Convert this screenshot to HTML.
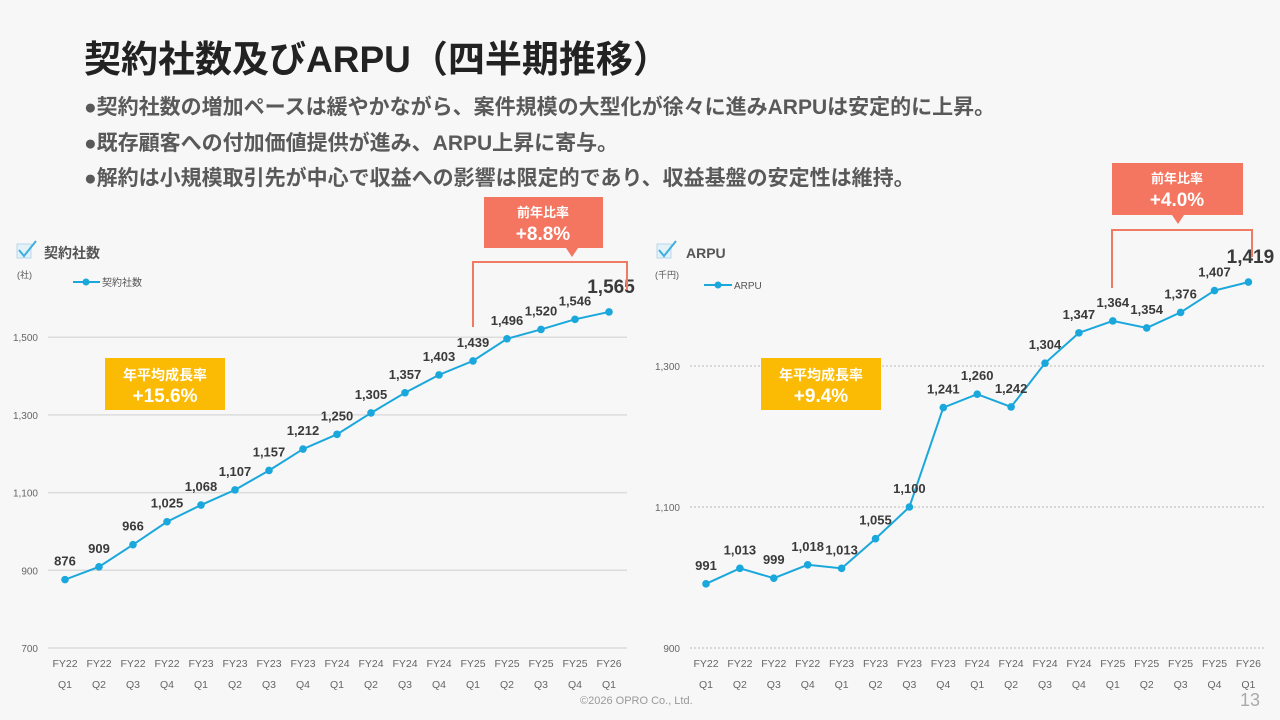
<!DOCTYPE html>
<html><head><meta charset="utf-8">
<style>
body{margin:0;width:1280px;height:720px;background:#f7f7f7;font-family:"Liberation Sans","Noto Sans CJK JP",sans-serif;overflow:hidden;position:relative}
.t{position:absolute;white-space:nowrap}
svg{position:absolute;left:0;top:0}
</style></head><body>
<div class="t" style="left:84px;top:29px;font-size:37px;font-weight:bold;color:#222">契約社数及びARPU（四半期推移）</div>
<div class="t" style="left:84px;top:91px;font-size:21px;font-weight:bold;color:#595959">●契約社数の増加ペースは緩やかながら、案件規模の大型化が徐々に進みARPUは安定的に上昇。</div>
<div class="t" style="left:84px;top:127px;font-size:21px;font-weight:bold;color:#595959">●既存顧客への付加価値提供が進み、ARPU上昇に寄与。</div>
<div class="t" style="left:84px;top:162px;font-size:21px;font-weight:bold;color:#595959">●解約は小規模取引先が中心で収益への影響は限定的であり、収益基盤の安定性は維持。</div>
<div class="t" style="left:580px;top:695px;font-size:11px;color:#999">©2026 OPRO Co., Ltd.</div>
<div class="t" style="left:1240px;top:690px;font-size:18px;color:#aaa">13</div>
<svg id="chart" width="1280" height="720"></svg>
<script>
const categoriesFY=["FY22","FY22","FY22","FY22","FY23","FY23","FY23","FY23","FY24","FY24","FY24","FY24","FY25","FY25","FY25","FY25","FY26"];
const categoriesQ=["Q1","Q2","Q3","Q4","Q1","Q2","Q3","Q4","Q1","Q2","Q3","Q4","Q1","Q2","Q3","Q4","Q1"];
const contractValues=[876,909,966,1025,1068,1107,1157,1212,1250,1305,1357,1403,1439,1496,1520,1546,1565];
const arpuValues=[991,1013,999,1018,1013,1055,1100,1241,1260,1242,1304,1347,1364,1354,1376,1407,1419];
const contractTicks=[700,900,1100,1300,1500];
const arpuTicks=[900,1100,1300];
const NS="http://www.w3.org/2000/svg";
const svg=document.getElementById('chart');
function mk(tag,attrs,parent){const e=document.createElementNS(NS,tag);for(const k in attrs)e.setAttribute(k,attrs[k]);(parent||svg).appendChild(e);return e;}
function fmt(v){return v.toLocaleString('en-US');}
function drawChart(cfg){
  const g=mk('g',{});
  
  
  const y=v=>cfg.y0-(v-cfg.vmin)*cfg.ppu;
  const x=i=>cfg.x0+i*cfg.step;
  cfg.ticks.forEach(t=>{
    const l=mk('line',{x1:cfg.gx0,x2:cfg.gx1,y1:y(t),y2:y(t),stroke:cfg.dotted?'#bbb':'#dcdcdc','stroke-width':cfg.dotted?1:1.5,'stroke-dasharray':cfg.dotted?'2,2':'none'},g);
    
    
    const tx=mk('text',{x:cfg.gx0-10,y:y(t)+4,'text-anchor':'end','font-size':10,fill:'#666'},g);
    tx.textContent=fmt(t);
    
    
  });
  categoriesFY.forEach((c,i)=>{
    const a=mk('text',{x:x(i),y:667,'text-anchor':'middle','font-size':10.5,fill:'#666'},g);a.textContent=c;
    
    
    const b=mk('text',{x:x(i),y:688,'text-anchor':'middle','font-size':10.5,fill:'#666'},g);b.textContent=categoriesQ[i];
    
    
  });
  const pts=cfg.values.map((v,i)=>x(i)+','+y(v)).join(' ');
  const pl=mk('polyline',{points:pts,fill:'none',stroke:'#1aa7dc','stroke-width':2},g);
  
  
  cfg.values.forEach((v,i)=>{
    const c=mk('circle',{cx:x(i),cy:y(v),r:3.8,fill:'#1aa7dc'},g);
    
    
    const last=i===cfg.values.length-1;
    const t=mk('text',{x:x(i)+(last?2:0),y:y(v)-(last?19:14),'text-anchor':'middle','font-size':last?19:13,'font-weight':'bold',fill:'#3a3a3a'},g);
    t.textContent=fmt(v);
    
    
  });
}
drawChart({name:'contracts-chart',values:contractValues,ticks:contractTicks,vmin:700,y0:648,ppu:77.7/200,x0:65,step:34,gx0:48,gx1:627,dotted:false});
drawChart({name:'arpu-chart',values:arpuValues,ticks:arpuTicks,vmin:900,y0:648,ppu:141/200,x0:706,step:33.9,gx0:690,gx1:1265,dotted:true});
</script>
<svg width="1280" height="720" style="pointer-events:none">
  <polyline points="473,327 473,262 627,262 627,290" fill="none" stroke="#f07a62" stroke-width="2"/>
  <rect x="484" y="197" width="119" height="51" fill="#f47560"/>
  <polygon points="566,248 578,248 572,257" fill="#f47560"/>
  <polyline points="1112,288 1112,230 1252,230 1252,257" fill="none" stroke="#f07a62" stroke-width="2"/>
  <rect x="1112" y="163" width="131" height="52" fill="#f47560"/>
  <polygon points="1172,215 1184,215 1178,224" fill="#f47560"/>
  <rect x="105" y="358" width="120" height="52" fill="#fbbb05"/>
  <rect x="761" y="358" width="120" height="52" fill="#fbbb05"/>
  <g fill="#fff" font-weight="bold" text-anchor="middle">
    <text x="543" y="217" font-size="13">前年比率</text><text x="543" y="240" font-size="19">+8.8%</text>
    <text x="1177" y="183" font-size="13">前年比率</text><text x="1177" y="206" font-size="19">+4.0%</text>
    <text x="165" y="380" font-size="14">年平均成長率</text><text x="165" y="402" font-size="19">+15.6%</text>
    <text x="821" y="380" font-size="14">年平均成長率</text><text x="821" y="402" font-size="19">+9.4%</text>
  </g>
  <g>
    <rect x="17" y="244" width="14" height="14" fill="#e3f1f8" stroke="#b8d8e8"/>
    <polyline points="19,250 24,256 36,241" fill="none" stroke="#3bb0df" stroke-width="2"/>
    <text x="44" y="258" font-size="14" font-weight="bold" fill="#555">契約社数</text>
    <text x="17" y="278" font-size="9" fill="#555">(社)</text>
    <line x1="73" y1="282" x2="100" y2="282" stroke="#1aa7dc" stroke-width="2"/><circle cx="86" cy="282" r="3.5" fill="#1aa7dc"/>
    <text x="102" y="286" font-size="10" fill="#555">契約社数</text>
  </g>
  <g>
    <rect x="657" y="244" width="14" height="14" fill="#e3f1f8" stroke="#b8d8e8"/>
    <polyline points="659,250 664,256 676,241" fill="none" stroke="#3bb0df" stroke-width="2"/>
    <text x="686" y="258" font-size="14" font-weight="bold" fill="#555">ARPU</text>
    <text x="655" y="278" font-size="9" fill="#555">(千円)</text>
    <line x1="704" y1="285" x2="732" y2="285" stroke="#1aa7dc" stroke-width="2"/><circle cx="718" cy="285" r="3.5" fill="#1aa7dc"/>
    <text x="734" y="289" font-size="10" fill="#555">ARPU</text>
  </g>
</svg>
</body></html>
